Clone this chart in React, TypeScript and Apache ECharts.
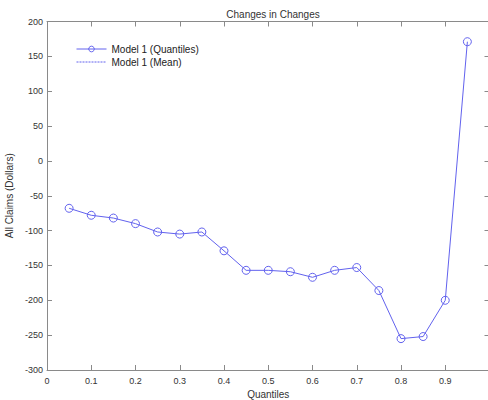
import React, { useEffect, useRef } from "react";
import * as echarts from "echarts";

const quantiles = [0.05, 0.1, 0.15, 0.2, 0.25, 0.3, 0.35, 0.4, 0.45, 0.5, 0.55, 0.6, 0.65, 0.7, 0.75, 0.8, 0.85, 0.9, 0.95];
const quantileEffects = [-68, -78, -82, -90, -102, -105, -102, -129, -157, -157, -159, -167, -157, -153, -186, -255, -252, -200, 171];
const meanEffects: number[] = [];
const seriesNames = ["Model 1 (Quantiles)", "Model 1 (Mean)"];

const LINE = "#6262ee";
const TXT = "#333";
const AX = "#8a8a8a";
const FONT = "'Liberation Sans', Arial, sans-serif";

export default function App() {
  const ref = useRef<HTMLDivElement>(null);
  useEffect(() => {
    if (!ref.current) return;
    const chart = echarts.init(ref.current, null, { renderer: "svg" });
    const fmt = (v: number) => (v >= 1 ? "" : String(Number(v.toFixed(1))));
    const tickCommon = { inside: true, length: 5, lineStyle: { color: AX } };
    const markerStyle = { color: "rgba(255,255,255,0)", borderColor: LINE, borderWidth: 1 };
    chart.setOption({
      animation: false,
      backgroundColor: "#fff",
      textStyle: { fontFamily: FONT },
      title: {
        text: "Changes in Changes",
        left: 268,
        textAlign: "center",
        top: 4,
        textStyle: { fontSize: 10, fontWeight: "normal", color: TXT, fontFamily: FONT },
      },
      legend: {
        orient: "vertical",
        left: 71,
        top: 39,
        padding: 5,
        itemWidth: 30,
        itemHeight: 7,
        itemGap: 3,
        textStyle: { fontSize: 10, color: "#222", fontFamily: FONT },
        data: [
          { name: seriesNames[0], itemStyle: markerStyle, lineStyle: { color: LINE, width: 1 } },
          { name: seriesNames[1], itemStyle: { opacity: 0 }, lineStyle: { color: LINE, width: 1, type: [2, 1] } },
        ],
      },
      grid: { left: 47, top: 21.5, width: 442.5, height: 348.5, outerBoundsMode: "none", containLabel: false },
      xAxis: [
        {
          type: "value",
          min: 0,
          max: 1,
          interval: 0.1,
          name: "Quantiles",
          nameLocation: "middle",
          nameGap: 19,
          nameTextStyle: { fontSize: 10, color: TXT, fontFamily: FONT },
          axisLine: { show: true, onZero: false, lineStyle: { color: AX } },
          axisTick: tickCommon,
          axisLabel: { fontSize: 9, color: TXT, formatter: fmt, margin: 6, fontFamily: FONT },
          splitLine: { show: false },
        },
        {
          type: "value",
          position: "top",
          min: 0,
          max: 1,
          interval: 0.1,
          axisLine: { show: true, onZero: false, lineStyle: { color: AX } },
          axisTick: tickCommon,
          axisLabel: { show: false },
          splitLine: { show: false },
        },
      ],
      yAxis: [
        {
          type: "value",
          min: -300,
          max: 200,
          interval: 50,
          name: "All Claims (Dollars)",
          nameLocation: "middle",
          nameGap: 32,
          nameTextStyle: { fontSize: 10, color: TXT, fontFamily: FONT },
          axisLine: { show: true, onZero: false, lineStyle: { color: AX } },
          axisTick: tickCommon,
          axisLabel: { fontSize: 9, color: TXT, margin: 4, fontFamily: FONT },
          splitLine: { show: false },
        },
        {
          type: "value",
          position: "right",
          min: -300,
          max: 200,
          interval: 50,
          axisLine: { show: true, onZero: false, lineStyle: { color: AX } },
          axisTick: tickCommon,
          axisLabel: { show: false },
          splitLine: { show: false },
        },
      ],
      series: [
        {
          name: seriesNames[0],
          type: "line",
          data: quantiles.map((q, i) => [q, quantileEffects[i]]),
          symbol: "circle",
          symbolSize: 8,
          showSymbol: true,
          lineStyle: { color: LINE, width: 1 },
          itemStyle: markerStyle,
        },
        {
          name: seriesNames[1],
          type: "line",
          data: meanEffects.map((v, i) => [quantiles[i], v]),
          symbol: "none",
          lineStyle: { color: LINE, width: 1, type: [2, 1] },
          itemStyle: { color: LINE },
        },
      ],
    });
    return () => chart.dispose();
  }, []);
  return <div ref={ref} style={{ position: "absolute", left: 0, top: 0, width: 488, height: 400 }} />;
}
